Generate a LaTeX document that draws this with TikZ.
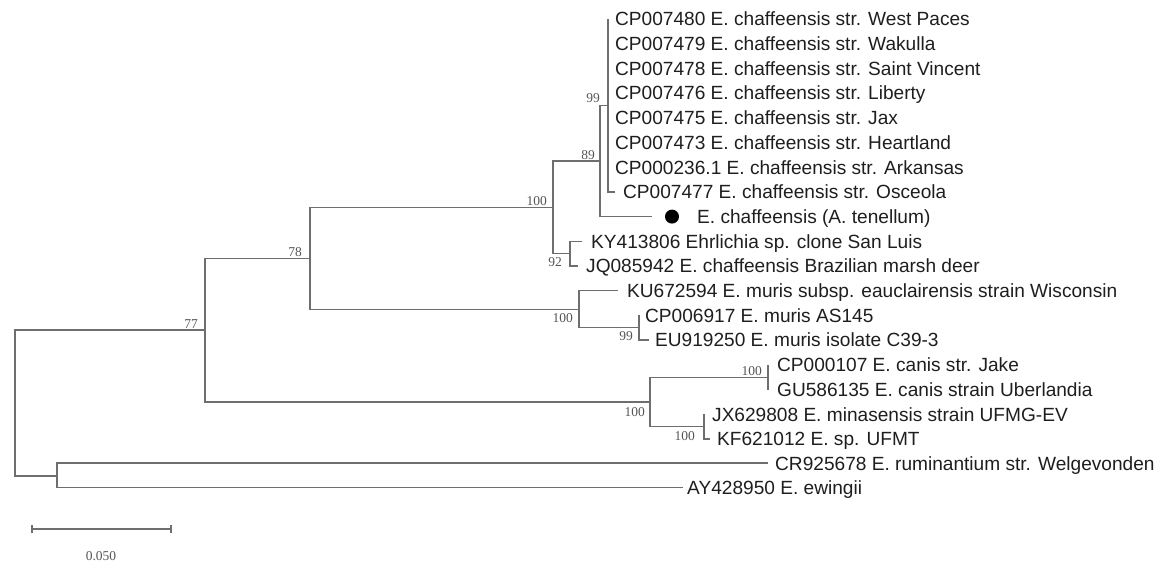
\documentclass[tikz,border=0pt]{standalone}
\usepackage{fontspec}
\newfontfamily\leaff{Liberation Sans}
\newfontfamily\bootf{Liberation Serif}
\definecolor{branchgray}{HTML}{6E6E6E}
\definecolor{leaftext}{HTML}{1E1E1E}
\definecolor{bootgray}{HTML}{555555}
\begin{document}
\begin{tikzpicture}[x=1bp,y=-1bp,
  branch/.style={draw=branchgray,line width=1.3bp},
  leaf/.style={anchor=base west,inner sep=0,text=leaftext,font=\leaff\fontsize{19.1bp}{22bp}\selectfont},
  boot/.style={anchor=base east,inner sep=0,text=bootgray,font=\bootf\fontsize{13.5bp}{16bp}\selectfont},
  scalelbl/.style={anchor=base,inner sep=0,text=bootgray,font=\bootf\fontsize{13.5bp}{16bp}\selectfont}]
\useasboundingbox (0,0) rectangle (1165,568);

% internal nodes
\coordinate (nA) at (608,105.5);
\coordinate (nB) at (600,161);
\coordinate (nC) at (570,253.6);
\coordinate (nD) at (553,207.3);
\coordinate (nE) at (639,327.7);
\coordinate (nF) at (579,309.2);
\coordinate (nG) at (310,258.3);
\coordinate (nH) at (768,377.2);
\coordinate (nI) at (704,426.6);
\coordinate (nJ) at (650,401.9);
\coordinate (nK) at (205,330.1);
\coordinate (nL) at (57,476);
\coordinate (nR) at (15,403);

% tips
\coordinate (t0) at (608,19);
\coordinate (t1) at (608,43.7);
\coordinate (t2) at (608,68.4);
\coordinate (t3) at (608,93.1);
\coordinate (t4) at (608,117.8);
\coordinate (t5) at (608,142.5);
\coordinate (t6) at (608,167.2);
\coordinate (t7) at (615,191.9);
\coordinate (t8) at (652,216.6);
\coordinate (t9) at (582,241.3);
\coordinate (t10) at (578,266);
\coordinate (t11) at (618,290.7);
\coordinate (t12) at (639,315.4);
\coordinate (t13) at (649,340.1);
\coordinate (t14) at (768,364.8);
\coordinate (t15) at (768,389.5);
\coordinate (t16) at (704,414.2);
\coordinate (t17) at (710,438.9);
\coordinate (t18) at (768,463.1);
\coordinate (t19) at (683,487.8);

% branches
\draw[branch] (nR) |- (nK);
\draw[branch] (nR) |- (nL);
\draw[branch] (nK) |- (nG);
\draw[branch] (nK) |- (nJ);
\draw[branch] (nG) |- (nD);
\draw[branch] (nG) |- (nF);
\draw[branch] (nD) |- (nB);
\draw[branch] (nD) |- (nC);
\draw[branch] (nB) |- (nA);
\draw[branch] (nB) |- (t8);
\draw[branch] (nA) |- (t0);
\draw[branch] (nA) |- (t1);
\draw[branch] (nA) |- (t2);
\draw[branch] (nA) |- (t3);
\draw[branch] (nA) |- (t4);
\draw[branch] (nA) |- (t5);
\draw[branch] (nA) |- (t6);
\draw[branch] (nA) |- (t7);
\draw[branch] (nC) |- (t9);
\draw[branch] (nC) |- (t10);
\draw[branch] (nF) |- (t11);
\draw[branch] (nF) |- (nE);
\draw[branch] (nE) |- (t12);
\draw[branch] (nE) |- (t13);
\draw[branch] (nJ) |- (nH);
\draw[branch] (nJ) |- (nI);
\draw[branch] (nH) |- (t14);
\draw[branch] (nH) |- (t15);
\draw[branch] (nI) |- (t16);
\draw[branch] (nI) |- (t17);
\draw[branch] (nL) |- (t18);
\draw[branch] (nL) |- (t19);

% marker
\node[circle,fill=black,minimum size=14bp,inner sep=0] (dot) at (672,216.6) {};

% leaf labels
\node[leaf] (l0) at (615,25.9) {CP007480 E. chaffeensis str. West Paces};
\node[leaf] (l1) at (615,50.6) {CP007479 E. chaffeensis str. Wakulla};
\node[leaf] (l2) at (615,75.3) {CP007478 E. chaffeensis str. Saint Vincent};
\node[leaf] (l3) at (615,100) {CP007476 E. chaffeensis str. Liberty};
\node[leaf] (l4) at (615,124.7) {CP007475 E. chaffeensis str. Jax};
\node[leaf] (l5) at (615,149.4) {CP007473 E. chaffeensis str. Heartland};
\node[leaf] (l6) at (615,174.1) {CP000236.1 E. chaffeensis str. Arkansas};
\node[leaf] (l7) at (623,198.8) {CP007477 E. chaffeensis str. Osceola};
\node[leaf] (l8) at (697,223.5) {E. chaffeensis (A. tenellum)};
\node[leaf] (l9) at (591,248.2) {KY413806 Ehrlichia sp. clone San Luis};
\node[leaf] (l10) at (586,272.9) {JQ085942 E. chaffeensis Brazilian marsh deer};
\node[leaf] (l11) at (627,297.6) {KU672594 E. muris subsp. eauclairensis strain Wisconsin};
\node[leaf] (l12) at (645,322.3) {CP006917 E. muris AS145};
\node[leaf] (l13) at (655,347) {EU919250 E. muris isolate C39-3};
\node[leaf] (l14) at (777,371.7) {CP000107 E. canis str. Jake};
\node[leaf] (l15) at (777,396.4) {GU586135 E. canis strain Uberlandia};
\node[leaf] (l16) at (712,421.1) {JX629808 E. minasensis strain UFMG-EV};
\node[leaf] (l17) at (717,445.8) {KF621012 E. sp. UFMT};
\node[leaf] (l18) at (775,470) {CR925678 E. ruminantium str. Welgevonden};
\node[leaf] (l19) at (687,494.7) {AY428950 E. ewingii};

% bootstrap values
\node[boot] (bA) at (600,103) {99};
\node[boot] (bB) at (595,159.5) {89};
\node[boot] (bD) at (547,205.5) {100};
\node[boot] (bG) at (302,256.5) {78};
\node[boot] (bK) at (198,328.5) {77};
\node[boot] (bC) at (562,267) {92};
\node[boot] (bF) at (573,323) {100};
\node[boot] (bE) at (633,340.5) {99};
\node[boot] (bH) at (762,375) {100};
\node[boot] (bJ) at (645,416) {100};
\node[boot] (bI) at (695,440.5) {100};

% scale bar
\coordinate (sb1) at (32,529);
\coordinate (sb2) at (171,529);
\draw[branch] (sb1) -- (sb2);
\draw[branch] (sb1) ++(0,-4) -- ++(0,8);
\draw[branch] (sb2) ++(0,-4) -- ++(0,8);
\node[scalelbl] (sbl) at (101,560) {0.050};
\end{tikzpicture}
\end{document}
